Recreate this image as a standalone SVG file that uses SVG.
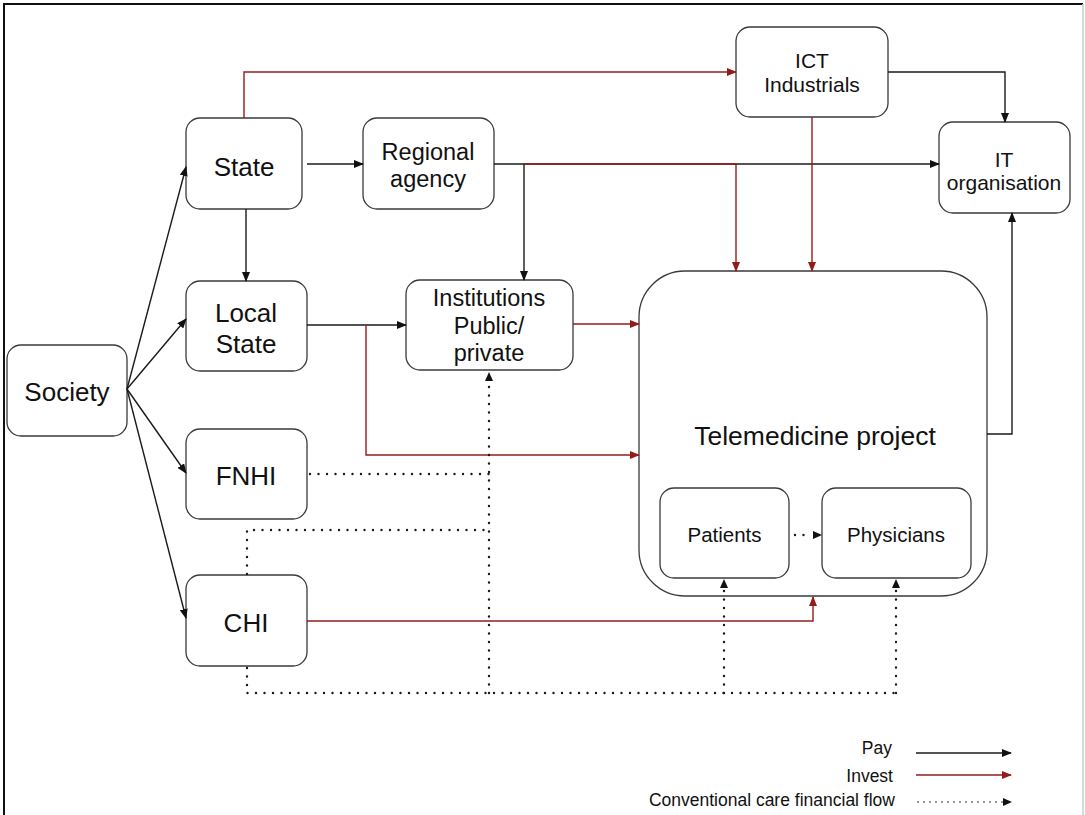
<svg xmlns="http://www.w3.org/2000/svg" width="1085" height="815" viewBox="0 0 1085 815">
<style>
.box{fill:#fff;stroke:#3a3a3a;stroke-width:1.3}
.t{font-family:"Liberation Sans",Arial,sans-serif;fill:#111;text-anchor:middle}
.pay{fill:none;stroke:#1a1a1a;stroke-width:1.4}
.inv{fill:none;stroke:#951b1b;stroke-width:1.4}
.dot{fill:none;stroke:#1a1a1a;stroke-width:2.4;stroke-dasharray:0 8.5;stroke-linecap:round}
.leg{font-family:"Liberation Sans",Arial,sans-serif;fill:#111;text-anchor:end;font-size:17.5px}
</style>
<defs>
<marker id="ab" markerWidth="10" markerHeight="8" refX="9" refY="4" orient="auto" markerUnits="userSpaceOnUse"><path d="M0,0 L10,4 L0,8 Z" fill="#111"/></marker>
<marker id="ar" markerWidth="10" markerHeight="8" refX="9" refY="4" orient="auto" markerUnits="userSpaceOnUse"><path d="M0,0 L10,4 L0,8 Z" fill="#951b1b"/></marker>
</defs>
<rect width="1085" height="815" fill="#fff"/>
<path d="M4,815 V4 H1083" fill="none" stroke="#111" stroke-width="2"/>
<path d="M1083,4 V815" fill="none" stroke="#ccc" stroke-width="1.5"/>

<g id="society"><rect class="box" x="7" y="345" width="120" height="91" rx="14"/><text class="t" x="67" y="401" font-size="26">Society</text></g>
<g id="state"><rect class="box" x="186" y="118" width="116" height="91" rx="14"/><text class="t" x="244" y="176" font-size="26">State</text></g>
<g id="local-state"><rect class="box" x="186" y="281" width="121" height="90" rx="14"/><text class="t" x="246" y="322" font-size="26">Local</text><text class="t" x="246" y="353" font-size="26">State</text></g>
<g id="fnhi"><rect class="box" x="186" y="429" width="121" height="90" rx="14"/><text class="t" x="246" y="485" font-size="26">FNHI</text></g>
<g id="chi"><rect class="box" x="186" y="575" width="121" height="91" rx="14"/><text class="t" x="246" y="632" font-size="26">CHI</text></g>
<g id="regional-agency"><rect class="box" x="363" y="118" width="131" height="91" rx="14"/><text class="t" x="428" y="160" font-size="23.5">Regional</text><text class="t" x="428" y="187" font-size="23.5">agency</text></g>
<g id="ict-industrials"><rect class="box" x="736" y="27" width="152" height="90" rx="14"/><text class="t" x="812" y="68" font-size="21">ICT</text><text class="t" x="812" y="92" font-size="21">Industrials</text></g>
<g id="it-organisation"><rect class="box" x="939" y="122" width="131" height="91" rx="14"/><text class="t" x="1004" y="167" font-size="21">IT</text><text class="t" x="1004" y="190" font-size="21">organisation</text></g>
<g id="institutions"><rect class="box" x="406" y="280" width="167" height="90" rx="14"/><text class="t" x="489" y="306" font-size="23.5">Institutions</text><text class="t" x="489" y="334" font-size="23.5">Public/</text><text class="t" x="489" y="361" font-size="23.5">private</text></g>
<g id="telemedicine-project"><rect class="box" x="639" y="271" width="348" height="325" rx="46"/><text class="t" x="815" y="445" font-size="26.5">Telemedicine project</text></g>
<g id="patients"><rect class="box" x="660" y="488" width="129" height="90" rx="14"/><text class="t" x="724.5" y="542" font-size="20.5">Patients</text></g>
<g id="physicians"><rect class="box" x="822" y="488" width="149" height="90" rx="14"/><text class="t" x="896" y="542" font-size="20.5">Physicians</text></g>

<g id="connectors">
<path class="pay" d="M127,389 L186,167" marker-end="url(#ab)"/>
<path class="pay" d="M127,389 L186,319" marker-end="url(#ab)"/>
<path class="pay" d="M127,389 L186,473" marker-end="url(#ab)"/>
<path class="pay" d="M127,389 L186,618" marker-end="url(#ab)"/>
<path class="pay" d="M307,164 H363" marker-end="url(#ab)"/>
<path class="pay" d="M246,209 V281" marker-end="url(#ab)"/>
<path class="inv" d="M244,118 V72 H736" marker-end="url(#ar)"/>
<path class="pay" d="M494,164 H939" marker-end="url(#ab)"/>
<path class="pay" d="M524,164 V280" marker-end="url(#ab)"/>
<path class="inv" d="M524,164 H736 V271" marker-end="url(#ar)"/>
<path class="inv" d="M812,117 V271" marker-end="url(#ar)"/>
<path class="pay" d="M888,72 H1005 V122" marker-end="url(#ab)"/>
<path class="pay" d="M987,434 H1012 V213" marker-end="url(#ab)"/>
<path class="pay" d="M307,325 H406" marker-end="url(#ab)"/>
<path class="inv" d="M366,325 V455 H639" marker-end="url(#ar)"/>
<path class="inv" d="M573,324 H639" marker-end="url(#ar)"/>
<path class="inv" d="M307,621 H813 V597" marker-end="url(#ar)"/>
<path class="dot" d="M310,474 H489"/>
<path class="dot" d="M247,574 V530 H489"/>
<path class="dot" d="M247,668 V693 H896"/>
<path class="dot" d="M489,693 V382"/>
<path d="M489,372 l-4,9 h8 z" fill="#111"/>
<path class="dot" d="M724,693 V589"/>
<path d="M724,579 l-4,9 h8 z" fill="#111"/>
<path class="dot" d="M896,693 V589"/>
<path d="M896,579 l-4,9 h8 z" fill="#111"/>
<path class="dot" d="M795,535 H811"/>
<path d="M822,535 l-9,-4 v8 z" fill="#111"/>
</g>

<g id="legend">
<text class="leg" x="892" y="754">Pay</text>
<path class="pay" d="M916,753 H1011" marker-end="url(#ab)"/>
<text class="leg" x="893" y="782">Invest</text>
<path class="inv" d="M916,775 H1011" marker-end="url(#ar)"/>
<text class="leg" x="895" y="806">Conventional care financial flow</text>
<path d="M918,802 H1003" fill="none" stroke="#111" stroke-width="1.6" stroke-dasharray="0 6" stroke-linecap="round"/>
<path d="M1012,802 l-9,-4 v8 z" fill="#111"/>
</g>
</svg>
